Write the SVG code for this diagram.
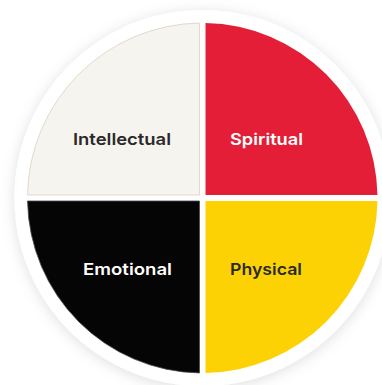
<svg xmlns="http://www.w3.org/2000/svg" width="382" height="385" viewBox="0 0 382 385">
  <defs>
    <filter id="shadow" x="-20%" y="-20%" width="140%" height="140%">
      <feDropShadow dx="0" dy="2" stdDeviation="7" flood-color="#000" flood-opacity="0.13"/>
    </filter>
    <style>
      .lbl { font-family: Inter, "Open Sans", "Liberation Sans", sans-serif; font-size: 16.5px; font-weight: 600; }
      .dark { fill: #2a2a2a; }
      .light { fill: #ffffff; }
    </style>
  </defs>
  <rect width="382" height="385" fill="#ffffff"/>
  <circle cx="202.5" cy="198" r="188" fill="#ffffff" filter="url(#shadow)"/>
  <g id="intellectual">
    <path d="M199.5,195 L27.53,195 A175,175 0 0 1 199.5,23.03 Z" fill="#f6f4ef" stroke="#e2d9cb" stroke-width="1"/>
    <text class="lbl dark" x="73" y="145" textLength="98" lengthAdjust="spacingAndGlyphs">Intellectual</text>
  </g>
  <g id="spiritual">
    <path d="M205.5,195 L205.5,23.03 A175,175 0 0 1 377.47,195 Z" fill="#e31e36"/>
    <text class="lbl light" x="230" y="145" textLength="73" lengthAdjust="spacingAndGlyphs">Spiritual</text>
  </g>
  <g id="emotional">
    <path d="M199.5,201 L199.5,372.97 A175,175 0 0 1 27.53,201 Z" fill="#050505" stroke="#4a4a4a" stroke-width="0.8"/>
    <text class="lbl light" x="83" y="275" textLength="89" lengthAdjust="spacingAndGlyphs">Emotional</text>
  </g>
  <g id="physical">
    <path d="M205.5,201 L377.47,201 A175,175 0 0 1 205.5,372.97 Z" fill="#fdd205"/>
    <text class="lbl dark" x="230" y="275" textLength="72" lengthAdjust="spacingAndGlyphs">Physical</text>
  </g>
  <g id="connectors"/>
</svg>
